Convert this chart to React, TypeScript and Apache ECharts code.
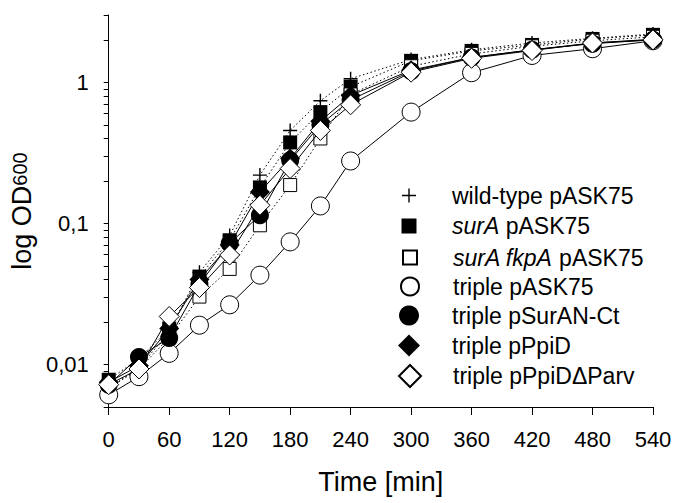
import React, { useEffect, useRef } from "react";
import * as echarts from "echarts";

const times = [0, 30, 60, 90, 120, 150, 180, 210, 240, 300, 360, 420, 480, 540];
const seriesNames = [
  "wild-type pASK75",
  "surA pASK75",
  "surA fkpA pASK75",
  "triple pASK75",
  "triple pSurAN-Ct",
  "triple pPpiD",
  "triple pPpiDΔParv",
];
const wildType = [0.0068, 0.0095, 0.017, 0.045, 0.082, 0.22, 0.456, 0.74, 1.06, 1.45, 1.7, 1.9, 2.05, 2.2];
const surA = [0.0078, 0.011, 0.018, 0.042, 0.076, 0.18, 0.375, 0.615, 0.93, 1.42, 1.67, 1.84, 2.03, 2.17];
const surAfkpA = [0.0068, 0.0093, 0.0155, 0.0303, 0.0476, 0.097, 0.187, 0.4, 0.82, 1.3, 1.59, 1.8, 1.97, 2.1];
const tripleASK = [0.0061, 0.0082, 0.012, 0.019, 0.0265, 0.043, 0.074, 0.133, 0.277, 0.615, 1.17, 1.55, 1.73, 1.97];
const tripleSurAN = [0.0072, 0.0113, 0.0154, 0.037, 0.072, 0.1145, 0.28, 0.5, 0.75, 1.2, 1.5, 1.7, 1.88, 2.0];
const triplePpiD = [0.0075, 0.0098, 0.018, 0.04, 0.0703, 0.167, 0.288, 0.53, 0.807, 1.22, 1.5, 1.7, 1.9, 2.02];
const triplePpiDParv = [0.0072, 0.0093, 0.0219, 0.0351, 0.0597, 0.1345, 0.245, 0.456, 0.693, 1.18, 1.48, 1.68, 1.9, 2.0];
const xTicks = [0, 60, 120, 180, 240, 300, 360, 420, 480, 540];
const yMajor = [0.01, 0.1, 1];
const yMinor = [0.005, 0.006, 0.007, 0.008, 0.009, 0.02, 0.03, 0.04, 0.05, 0.06, 0.07, 0.08, 0.09, 0.2, 0.3, 0.4, 0.5, 0.6, 0.7, 0.8, 0.9, 2, 3];

const FONT = "'Liberation Sans', Arial, sans-serif";
const PLUS = "path://M6.3,0H7.7V6.3H14V7.7H7.7V14H6.3V7.7H0V6.3H6.3Z";

const values = [wildType, surA, surAfkpA, tripleASK, tripleSurAN, triplePpiD, triplePpiDParv];
const styles = [
  { symbol: PLUS, size: 14, fill: "#000", dash: "dotted", legendIcon: PLUS, lsize: 14 },
  { symbol: "rect", size: 14, fill: "#000", dash: "dotted", legendIcon: "rect", lsize: 15 },
  { symbol: "rect", size: 13, fill: "#fff", dash: "dotted", legendIcon: "rect", lsize: 14 },
  { symbol: "circle", size: 18, fill: "#fff", dash: "solid", legendIcon: "circle", lsize: 18 },
  { symbol: "circle", size: 18, fill: "#000", dash: "solid", legendIcon: "circle", lsize: 20 },
  { symbol: "diamond", size: 20, fill: "#000", dash: "solid", legendIcon: "diamond", lsize: 22 },
  { symbol: "diamond", size: 20, fill: "#fff", dash: "solid", legendIcon: "diamond", lsize: 22 },
];
const legendRows = [191, 222, 253, 284, 314, 345, 375];

const fmtLegend = (name: string) => {
  if (name === "surA pASK75") return "{i|surA} pASK75";
  if (name === "surA fkpA pASK75") return "{i|surA fkpA} pASK75";
  return name;
};

export default function App() {
  const ref = useRef<HTMLDivElement>(null);
  useEffect(() => {
    if (!ref.current) return;
    const chart = echarts.init(ref.current, undefined, { renderer: "svg" });
    const series = seriesNames.map((name, i) => ({
      name,
      type: "line",
      data: times.map((t, j) => [t, values[i][j]]),
      symbol: styles[i].symbol,
      symbolSize: styles[i].size,
      itemStyle: { color: styles[i].fill, borderColor: "#000", borderWidth: styles[i].fill === "#fff" ? 1 : 0 },
      lineStyle: { color: "#000", width: 1, type: styles[i].dash === "dotted" ? [1.5, 2.5] : "solid" },
      emphasis: { disabled: true },
      z: 2 + i,
    }));
    const legends = seriesNames.map((name, i) => {
      const s = styles[i].lsize;
      return {
        data: [{ name, icon: styles[i].legendIcon }],
        left: 409 - s / 2,
        top: legendRows[i] - s / 2,
        padding: 0,
        itemWidth: s,
        itemHeight: s,
        selectedMode: false,
        formatter: fmtLegend,
        textStyle: {
          fontSize: 23,
          fontFamily: FONT,
          color: "#000",
          padding: [0, 0, 0, 38 - s / 2],
          rich: { i: { fontStyle: "italic", fontSize: 23, fontFamily: FONT, color: "#000" } },
        },
      };
    });
    chart.setOption({
      animation: false,
      backgroundColor: "#fff",
      grid: { left: 105, right: 32, top: 15, bottom: 96, containLabel: false },
      legend: legends,
      xAxis: {
        type: "value",
        min: 0,
        max: 540,
        interval: 60,
        name: "Time [min]",
        nameLocation: "middle",
        nameGap: 61,
        nameTextStyle: { fontSize: 27, fontFamily: FONT, color: "#000" },
        axisLine: { show: true, onZero: false, lineStyle: { color: "#000", width: 1 } },
        axisTick: { show: true, inside: false, length: 8, lineStyle: { color: "#000" }, customValues: xTicks },
        axisLabel: { fontSize: 22, fontFamily: FONT, color: "#000", margin: 21, customValues: xTicks },
        splitLine: { show: false },
      },
      yAxis: {
        type: "log",
        logBase: 10,
        min: 0.005,
        max: 3,
        name: "{a|log OD}{b|600}",
        nameLocation: "middle",
        nameRotate: 90,
        nameGap: 71,
        nameTextStyle: {
          color: "#000",
          rich: {
            a: { fontSize: 27, fontFamily: FONT, color: "#000", lineHeight: 30, verticalAlign: "middle" },
            b: { fontSize: 20, fontFamily: FONT, color: "#000", lineHeight: 30, verticalAlign: "middle", padding: [0, 0, 4, 0] },
          },
        },
        axisLine: { show: true, onZero: false, lineStyle: { color: "#000", width: 1 } },
        axisTick: { show: true, inside: false, length: 5, lineStyle: { color: "#000" }, customValues: [...yMinor, ...yMajor].sort((a, b) => a - b) },
        axisLabel: {
          fontSize: 22,
          fontFamily: FONT,
          color: "#000",
          margin: 20,
          customValues: yMajor,
          formatter: (v: number) => (Math.abs(v - 1) < 1e-6 ? "1" : Math.abs(v - 0.1) < 1e-6 ? "0,1" : "0,01"),
        },
        splitLine: { show: false },
        minorTick: { show: false },
      },
      series,
    });
    return () => chart.dispose();
  }, []);
  return <div ref={ref} style={{ position: "absolute", left: 0, top: 0, width: 685, height: 503 }} />;
}
